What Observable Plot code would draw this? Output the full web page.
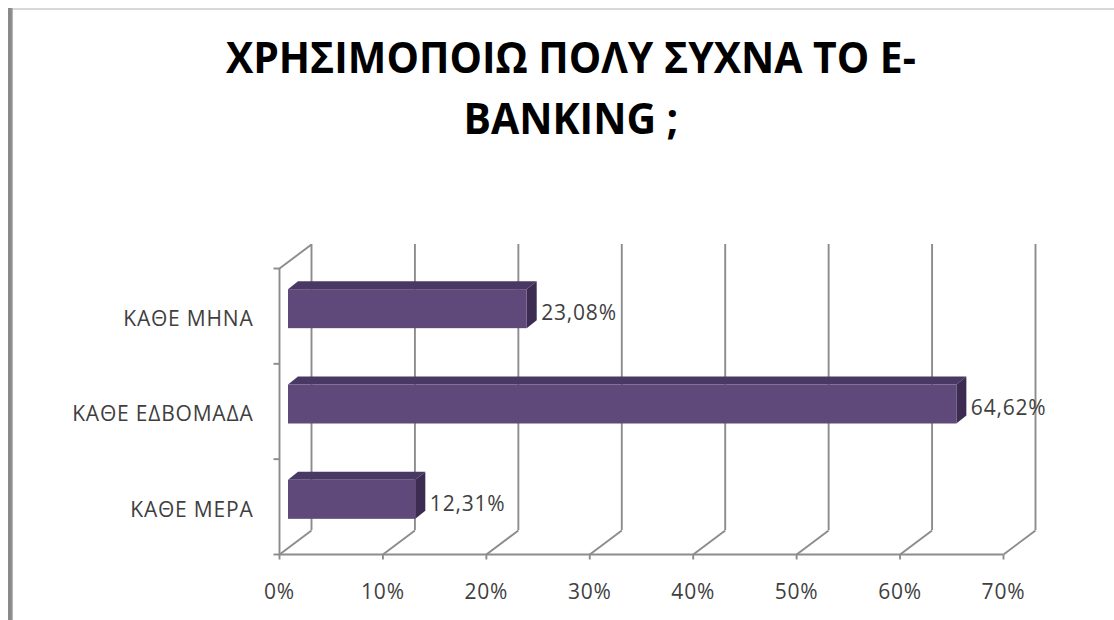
<!DOCTYPE html>
<html>
<head>
<meta charset="utf-8">
<script src="https://cdn.jsdelivr.net/npm/d3@7"></script>
<script src="https://cdn.jsdelivr.net/npm/@observablehq/plot@0.6"></script>
<style>
html, body { margin: 0; padding: 0; background: #fff; }
#wrap { position: relative; width: 1114px; height: 620px; overflow: hidden; background: #fff; font-family: "Open Sans", sans-serif; }
#topline { position: absolute; left: 13px; top: 8px; width: 1101px; height: 2px; background: #d8d8d8; }
#leftline { position: absolute; left: 8px; top: 8px; width: 5px; height: 612px; background: linear-gradient(to right, #8a8a8a 0, #8a8a8a 65%, #c4c4c4 100%); }
.title { position: absolute; left: 14px; width: 1114px; text-align: center; font-weight: 700; font-size: 43px; line-height: 1; color: #000; white-space: nowrap; }
.title span { display: inline-block; transform-origin: 50% 50%; }
#chart { position: absolute; left: 0; top: 200px; }
</style>
</head>
<body>
<div id="wrap">
  <div id="topline"></div>
  <div id="leftline"></div>
  <div class="title" id="t1" style="top:35px"><span></span></div>
  <div class="title" id="t2" style="top:96px"><span></span></div>
  <div id="chart"></div>
</div>
<script>
// ---- data ----
const titleLines = ["ΧΡΗΣΙΜΟΠΟΙΩ ΠΟΛΥ ΣΥΧΝΑ ΤΟ E-", "BANKING ;"];
const categories = ["ΚΑΘΕ ΜΕΡΑ", "ΚΑΘΕ ΕΔΒΟΜΑΔΑ", "ΚΑΘΕ ΜΗΝΑ"];
const values = [12.31, 64.62, 23.08];
const xTicks = [0, 10, 20, 30, 40, 50, 60, 70];

// ---- title ----
const s1 = document.querySelector("#t1 span");
const s2 = document.querySelector("#t2 span");
s1.textContent = titleLines[0];
s2.textContent = titleLines[1];
const targetW = 690;
const k = targetW / s1.getBoundingClientRect().width;
s1.style.transform = `scaleX(${k})`;
s2.style.transform = `scaleX(${k})`;

// ---- layout ----
const W = 1114, H = 420, ML = 279, MR = 111, MT = 68, MB = 66;
const pxX = (W - ML - MR) / 70;   // px per x unit
const pxY = (H - MT - MB) / 3;    // px per y unit
const ux = p => p / pxX, uy = p => p / pxY;
const WALL_DX = 32, WALL_DY = 24;     // depth of the 3D box
const BAR_DX = 9, BAR_DY = 7;         // bar front offset into the box
const BAR_TX = 10, BAR_TY = 8;        // bar depth
const BAR_H = 39;                     // bar front face height in px
const grid = "#8c8c8c";
const txt = "#3f3f3f";
const sw = 1.9;

const rows = categories.map((c, i) => ({cat: c, value: values[i], yc: i + 0.5}));
const hh = uy(BAR_H) / 2;

const topFace = rows.flatMap(r => [
  {cat: r.cat, y: r.yc + hh, x1: 0, x2: r.value},
  {cat: r.cat, y: r.yc + hh + uy(BAR_TY), x1: ux(BAR_TX), x2: r.value + ux(BAR_TX)}
]);
const sideFace = rows.flatMap(r => [
  {cat: r.cat, x: r.value, y1: r.yc - hh, y2: r.yc + hh},
  {cat: r.cat, x: r.value + ux(BAR_TX), y1: r.yc - hh + uy(BAR_TY), y2: r.yc + hh + uy(BAR_TY)}
]);

const fmt = v => d3.format(".2f")(v).replace(".", ",") + "%";

const plot = Plot.plot({
  width: W, height: H,
  marginLeft: ML, marginRight: MR, marginTop: MT, marginBottom: MB,
  x: {domain: [0, 70], axis: null},
  y: {domain: [0, 3], axis: null},
  style: {fontFamily: '"Open Sans", sans-serif', fontSize: "21px", background: "transparent", letterSpacing: "0.8px"},
  marks: [
    // back wall gridlines
    Plot.ruleX(xTicks, {x: d => d, y1: 0, y2: 3, dx: WALL_DX, dy: -WALL_DY, stroke: grid, strokeWidth: sw}),
    // floor diagonals
    Plot.link(xTicks, {x1: d => d, y1: 0, x2: d => d + ux(WALL_DX), y2: uy(WALL_DY), stroke: grid, strokeWidth: sw}),
    // left wall top diagonal
    Plot.link([3], {x1: 0, y1: d => d, x2: ux(WALL_DX), y2: d => d + uy(WALL_DY), stroke: grid, strokeWidth: sw}),
    // front axis lines
    Plot.ruleX([0], {y1: 0, y2: 3, stroke: grid, strokeWidth: sw}),
    Plot.ruleY([0], {x1: 0, x2: 70, stroke: grid, strokeWidth: sw}),
    // ticks
    Plot.link(xTicks, {x1: d => d, x2: d => d, y1: 0, y2: -uy(5), stroke: grid, strokeWidth: sw}),
    Plot.link([0, 1, 2, 3], {x1: -ux(6), x2: 0, y1: d => d, y2: d => d, stroke: grid, strokeWidth: sw}),
    // bars: top face, side face, front face
    Plot.areaX(topFace, {y: "y", x1: "x1", x2: "x2", z: "cat", fill: "#4a3864", dx: BAR_DX, dy: -BAR_DY}),
    Plot.areaY(sideFace, {x: "x", y1: "y1", y2: "y2", z: "cat", fill: "#3c2c52", dx: BAR_DX, dy: -BAR_DY}),
    Plot.rect(rows, {x1: 0, x2: "value", y1: r => r.yc - hh, y2: r => r.yc + hh, fill: "#5f497b", dx: BAR_DX, dy: -BAR_DY}),
    // value labels
    Plot.text(rows, {x: "value", y: "yc", text: r => fmt(r.value), textAnchor: "start", dx: 23, dy: -3, fill: txt, fontSize: 21}),
    // category labels
    Plot.text(rows, {x: 0, y: "yc", text: "cat", textAnchor: "end", dx: -26, dy: 3, fill: txt, fontSize: 21}),
    // x tick labels
    Plot.text(xTicks, {x: d => d, y: 0, text: d => d + "%", dy: 38, fill: txt, fontSize: 21})
  ]
});
document.getElementById("chart").appendChild(plot);
</script>
</body>
</html>
